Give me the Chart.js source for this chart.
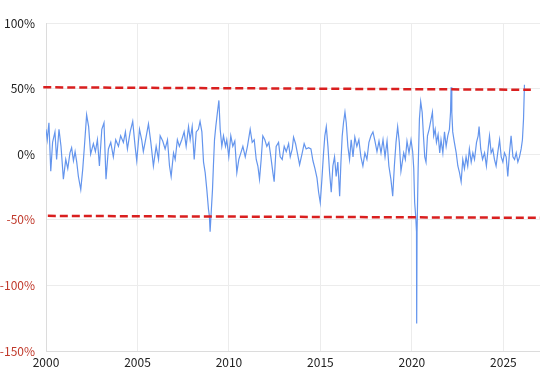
<!DOCTYPE html>
<html>
<head>
<meta charset="utf-8">
<script src="https://cdn.jsdelivr.net/npm/chart.js@4/dist/chart.umd.min.js"></script>
<style>
  html, body { margin: 0; padding: 0; background: #fff; }
  #wrap { width: 540px; height: 379px; }
</style>
</head>
<body>
<div id="wrap"><canvas id="rateChart" width="540" height="379"></canvas></div>
<script>
// Year-over-year change (%)
const dates = [
  2000.00, 2000.07, 2000.16, 2000.26, 2000.36, 2000.49, 2000.58, 2000.71, 2000.82, 2000.95,
  2001.08, 2001.19, 2001.31, 2001.40, 2001.50, 2001.59, 2001.68, 2001.77, 2001.90, 2002.01,
  2002.10, 2002.22, 2002.33, 2002.44, 2002.59, 2002.70, 2002.81, 2002.92, 2003.05, 2003.17,
  2003.28, 2003.41, 2003.54, 2003.68, 2003.81, 2003.96, 2004.08, 2004.23, 2004.34, 2004.45,
  2004.60, 2004.74, 2004.87, 2004.96, 2005.11, 2005.23, 2005.32, 2005.47, 2005.60, 2005.73,
  2005.87, 2006.02, 2006.15,
  2006.24, 2006.38, 2006.51, 2006.64, 2006.75, 2006.84, 2006.97, 2007.06, 2007.18, 2007.29,
  2007.42, 2007.55, 2007.66, 2007.79, 2007.88, 2007.99, 2008.10, 2008.21, 2008.33, 2008.42,
  2008.52, 2008.61, 2008.70, 2008.79, 2008.88, 2008.93, 2008.97, 2009.03, 2009.10, 2009.15,
  2009.21, 2009.28, 2009.37, 2009.45, 2009.52, 2009.61, 2009.70, 2009.81, 2009.88, 2009.99,
  2010.10, 2010.21, 2010.32, 2010.43, 2010.54, 2010.65, 2010.76, 2010.89, 2011.01, 2011.16,
  2011.27, 2011.38, 2011.49, 2011.58, 2011.67, 2011.76, 2011.85, 2011.96, 2012.07, 2012.18,
  2012.29, 2012.40, 2012.47, 2012.58, 2012.71,
  2012.80, 2012.91, 2013.02, 2013.13, 2013.26, 2013.35, 2013.46, 2013.53, 2013.64, 2013.75,
  2013.86, 2013.99, 2014.11, 2014.22, 2014.35, 2014.48, 2014.59, 2014.70, 2014.81, 2014.90,
  2014.99, 2015.08, 2015.17, 2015.24, 2015.32, 2015.41, 2015.50, 2015.59, 2015.68, 2015.77,
  2015.86, 2015.95, 2016.05, 2016.12, 2016.19, 2016.26, 2016.34, 2016.41, 2016.50, 2016.59,
  2016.68, 2016.78, 2016.88, 2016.99, 2017.10, 2017.21, 2017.32, 2017.43, 2017.54, 2017.65,
  2017.76, 2017.87, 2017.98, 2018.09, 2018.20, 2018.31, 2018.42, 2018.53, 2018.64, 2018.74,
  2018.85, 2018.95, 2019.04, 2019.13, 2019.22, 2019.31, 2019.40,
  2019.55, 2019.64, 2019.73, 2019.84, 2019.95, 2020.04, 2020.10, 2020.15, 2020.21, 2020.25,
  2020.26, 2020.28, 2020.34, 2020.41, 2020.48, 2020.56, 2020.63, 2020.70, 2020.77, 2020.85,
  2020.94, 2021.01, 2021.12, 2021.19, 2021.27, 2021.34, 2021.43, 2021.52, 2021.59, 2021.69,
  2021.78, 2021.87, 2021.96, 2022.05, 2022.11, 2022.14, 2022.18, 2022.23, 2022.32, 2022.42,
  2022.51, 2022.60, 2022.69, 2022.78, 2022.87, 2022.96, 2023.05, 2023.14, 2023.24, 2023.33,
  2023.42, 2023.53, 2023.62, 2023.67, 2023.76, 2023.86, 2023.97, 2024.07, 2024.17, 2024.24,
  2024.33, 2024.42, 2024.51, 2024.60, 2024.69, 2024.79, 2024.88, 2024.97, 2025.06, 2025.15,
  2025.24, 2025.33, 2025.42, 2025.52, 2025.61, 2025.70, 2025.79, 2025.88, 2025.97, 2026.04,
  2026.10, 2026.15
];

const changes = [
  19, 11, 24, -13, 9, 17, -4, 19, 6, -19,
  -4, -11, 1, 5, -5, 2, -6, -17, -27, -11,
  6, 30, 21, 0, 8, 2, 11, -9, 19, 24,
  -19, 4, 9, -2, 11, 6, 14, 9, 17, 4,
  17, 25, 6, -5, 19, 11, 2, 13, 23, 9,
  -9, 6, -4,
  14, 10, 4, 11, -9, -17, 1, -4, 11, 6,
  11, 17, 6, 21, 11, 21, -4, 17, 19, 25,
  17, -6, -14, -27, -42, -47, -59, -44, -27, -9,
  11, 21, 32, 41, 19, 6, 14, 6, 11, -2,
  14, 6, 10, -14, -4, 1, 6, -2, 6, 19,
  9, 11, -4, -9, -19, -4, 14, 11, 6, 9,
  -2, -14, -21, 6, 9,
  -2, -4, 6, 2, 8, -2, 4, 13, 8, 0,
  -8, 0, 8, 4, 5, 4, -5, -11, -18, -29,
  -37, -19, 1, 14, 21, 6, -14, -29, -9, -2,
  -17, -6, -32, -6, 14, 24, 32, 24, 6, -4,
  11, -2, 13, 6, 11, -2, -9, 1, -4, 9,
  14, 17, 10, 2, 10, 1, 11, -2, 10, -9,
  -19, -32, -9, 9, 21, 9, -13,
  1, -4, 10, 1, 11, 2, -11, -37, -48, -59,
  -129, -60, -11, 27, 40, 32, 14, -2, -6, 14,
  19, 24, 32, 14, 19, 9, 15, 1, 11, 1,
  17, 6, 14, 19, 32, 51, 32, 17, 9, 1,
  -9, -14, -21, -4, -11, -2, -9, 4, -6, 1,
  -4, 9, 14, 21, 4, -4, 1, -9, 5, 14,
  1, 4, -4, -9, 1, 11, -2, -6, 1, -2,
  -17, 1, 14, -2, -4, 1, -6, -2, 4, 11,
  27, 53
];

// Dashed band lines: [year, value]
const upperBand = [[1999.85, 51], [2026.5, 49.1]];
const lowerBand = [[2000.1, -47], [2027, -48.5]];

// Axis ticks
const yearTicks = [2000, 2005, 2010, 2015, 2020, 2025];
const pctTicks = [-150, -100, -50, 0, 50, 100];

const labelFont = { family: '"Noto Sans CJK JP", "Noto Sans", sans-serif', size: 12 };

const series = dates.map((d, i) => ({ x: d, y: changes[i] }));
const toPoints = arr => arr.map(p => ({ x: p[0], y: p[1] }));

const ctx = document.getElementById('rateChart').getContext('2d');

new Chart(ctx, {
    type: 'line',
    data: {
        datasets: [{
            data: series,
            borderColor: '#6495ed',
            borderWidth: 1.2,
            pointRadius: 0,
            tension: 0,
            order: 2
        }, {
            data: toPoints(upperBand),
            borderColor: '#d91f1f',
            borderWidth: 2.5,
            borderDash: [8, 4],
            pointRadius: 0,
            clip: false,
            order: 1
        }, {
            data: toPoints(lowerBand),
            borderColor: '#d91f1f',
            borderWidth: 2.5,
            borderDash: [8, 4],
            pointRadius: 0,
            clip: false,
            order: 1
        }]
    },
    options: {
        responsive: false,
        animation: false,
        devicePixelRatio: 1,
        layout: { padding: { top: 23, right: 0, bottom: 0, left: 0 } },
        plugins: {
            legend: { display: false },
            tooltip: { enabled: false }
        },
        scales: {
            x: {
                type: 'linear',
                min: 2000,
                max: 2027,
                afterBuildTicks: function (scale) {
                    scale.ticks = yearTicks.map(v => ({ value: v }));
                },
                afterFit: function (scale) { scale.height = 28; },
                grid: { color: '#ececec', drawTicks: false },
                border: { color: '#dcdcdc' },
                ticks: {
                    color: '#222',
                    font: labelFont,
                    padding: 4,
                    maxRotation: 0,
                    callback: v => String(v)
                }
            },
            y: {
                min: -150,
                max: 100,
                afterBuildTicks: function (scale) {
                    scale.ticks = pctTicks.map(v => ({ value: v }));
                },
                afterFit: function (scale) { scale.width = 46; },
                grid: { color: '#ececec', drawTicks: false },
                border: { color: '#dcdcdc' },
                ticks: {
                    font: labelFont,
                    padding: 11,
                    color: c => (c.tick && c.tick.value < 0) ? '#c0392b' : '#222',
                    callback: v => v + '%'
                }
            }
        }
    }
});
</script>
</body>
</html>
